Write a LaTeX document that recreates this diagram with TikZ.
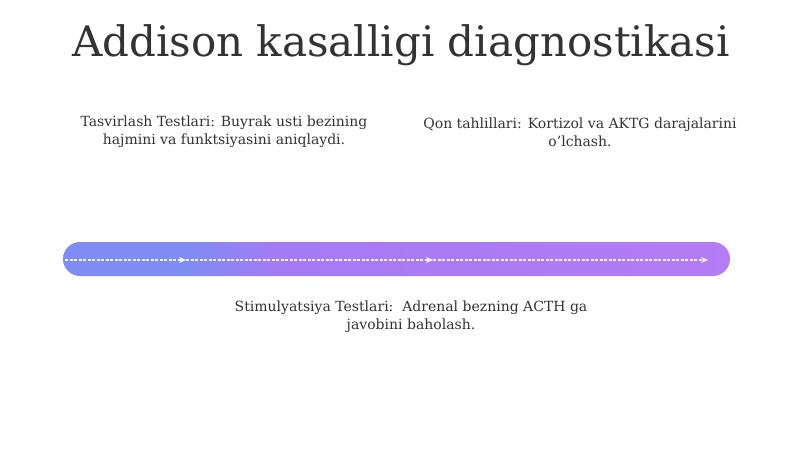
\documentclass[tikz,border=0pt]{standalone}
\usepackage{fontspec}
\setmainfont{DejaVu Serif}
\usetikzlibrary{arrows.meta}
\definecolor{txt}{HTML}{333333}
\definecolor{barL}{HTML}{7E8CF4}
\definecolor{barM}{HTML}{A47BF5}
\definecolor{barR}{HTML}{B47CF5}
\pgfdeclarehorizontalshading{barshade}{100bp}{color(0bp)=(barL); color(25bp)=(barL); color(34bp)=(barL); color(41bp)=(barM); color(75bp)=(barR); color(100bp)=(barR)}
\tikzset{
  label/.style={text=txt, font=\fontsize{14}{18}\selectfont, align=center, inner sep=0pt},
  flow/.style={white, opacity=0.9, dash pattern=on 3pt off 1.5pt, line width=1.1pt, -{Stealth[length=7pt,width=6pt]}}
}
\begin{document}
\begin{tikzpicture}[x=1pt,y=-1pt]
\useasboundingbox (0,0) rectangle (800,449);
\fill[white] (0,0) rectangle (800,449);
\node[text=txt, font=\fontsize{42}{46}\selectfont, inner sep=0pt] (title) at (401,45) {Addison kasalligi diagnostikasi};
\node[label] (t1) at (224,132) {Tasvirlash Testlari: Buyrak usti bezining\\hajmini va funktsiyasini aniqlaydi.};
\node[label] (t2) at (580,132) {Qon tahlillari: Kortizol va AKTG darajalarini\\o'lchash.};
\node[label] (t3) at (411,317) {Stimulyatsiya Testlari:\ \ Adrenal bezning ACTH ga\\javobini baholash.};
\shade[shading=barshade, rounded corners=17pt] (63,242) rectangle (730,276);
\coordinate (s0) at (65,260);
\coordinate (s1) at (186,260);
\coordinate (s2) at (433,260);
\coordinate (s3) at (708,260);
\draw[flow] (s0) -- (s1);
\draw[flow] (s1) -- (s2);
\draw[flow] (s2) -- (s3);
\end{tikzpicture}
\end{document}
